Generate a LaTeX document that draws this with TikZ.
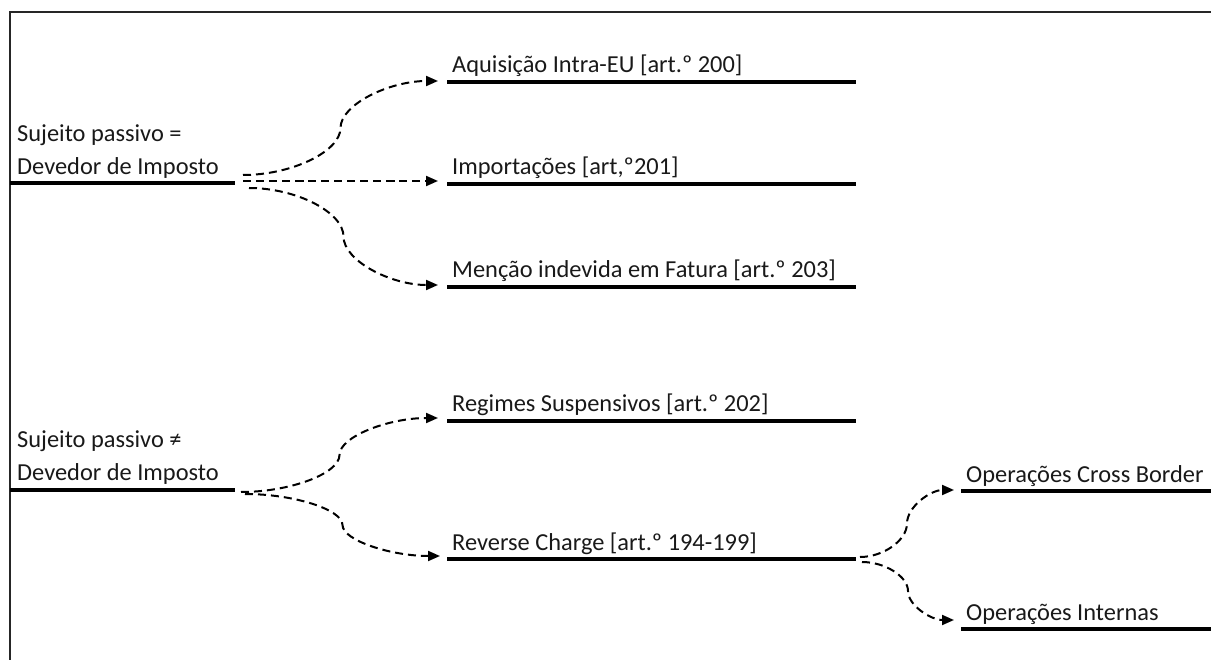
\documentclass[tikz,border=0pt]{standalone}
\usepackage{fontspec}
\setmainfont{Carlito}
\usetikzlibrary{arrows.meta,calc}

\tikzset{
  frameline/.style={line width=2pt, draw=black!85},
  uline/.style={line width=3.6pt, draw=black},
  lbl/.style={inner sep=0pt, anchor=base west, font=\fontsize{24.4}{28}\selectfont, text=black!90},
  conn/.style={line width=2pt, dash pattern=on 8pt off 5pt, -{Triangle[length=12pt,width=10pt]}},
}

% S-shaped connector: two cubic halves meeting with a vertical tangent at the midpoint
\newcommand\wordcurve[2]{%
  \draw[conn] let \p1=(#1), \p2=(#2) in
    (\p1) .. controls ({0.75*\x1+0.25*\x2},\y1) and ({0.5*\x1+0.5*\x2},{0.75*\y1+0.25*\y2})
    .. ({0.5*\x1+0.5*\x2},{0.5*\y1+0.5*\y2})
    .. controls ({0.5*\x1+0.5*\x2},{0.25*\y1+0.75*\y2}) and ({0.25*\x1+0.75*\x2},\y2) .. (\p2);}

\begin{document}
\begin{tikzpicture}[x=1pt,y=-1pt]
\useasboundingbox (0,0) rectangle (1211,660);

% open frame (top and left edges)
\draw[frameline] (10,664) -- (10,12) -- (1215,12);

% underline end points
\coordinate (s1w) at (10,183);  \coordinate (s1e) at (235,183);
\coordinate (s2w) at (10,490);  \coordinate (s2e) at (235,490);
\coordinate (aqw) at (447,82);  \coordinate (aqe) at (856,82);
\coordinate (imw) at (447,184); \coordinate (ime) at (856,184);
\coordinate (mew) at (447,287); \coordinate (mee) at (856,287);
\coordinate (rgw) at (447,421); \coordinate (rge) at (856,421);
\coordinate (rcw) at (447,559); \coordinate (rce) at (856,559);
\coordinate (cbw) at (961,491); \coordinate (cbe) at (1215,491);
\coordinate (inw) at (961,629); \coordinate (ine) at (1215,629);

\foreach \a/\b in {s1w/s1e,s2w/s2e,aqw/aqe,imw/ime,mew/mee,rgw/rge,rcw/rce,cbw/cbe,inw/ine}
  \draw[uline] (\a) -- (\b);

% labels
\node[lbl] (s1a) at (17,142) {Sujeito passivo =};
\node[lbl] (s1b) at (17,175) {Devedor de Imposto};
\node[lbl] (s2a) at (17,447) {Sujeito passivo ≠};
\node[lbl] (s2b) at (17,480) {Devedor de Imposto};
\node[lbl] (aq) at (452,73)  {Aquisição Intra-EU [art.º 200]};
\node[lbl] (im) at (452,175) {Importações [art,º201]};
\node[lbl] (me) at (452,278) {Menção indevida em Fatura [art.º 203]};
\node[lbl] (rg) at (452,412) {Regimes Suspensivos [art.º 202]};
\node[lbl] (rc) at (452,550) {Reverse Charge [art.º 194-199]};
\node[lbl] (cb) at (966,482) {Operações Cross Border};
\node[lbl] (in) at (966,620) {Operações Internas};

% connectors
\wordcurve{$(s1e)+(8,-8)$}{$(aqw)+(-9,-1)$}
\wordcurve{$(s1e)+(8,-2)$}{$(imw)+(-9,-3)$}
\wordcurve{$(s1e)+(14,5)$}{$(mew)+(-9,-2)$}
\wordcurve{$(s2e)+(6,2)$}{$(rgw)+(-9,-3)$}
\wordcurve{$(s2e)+(10,4)$}{$(rcw)+(-7,-3)$}
\wordcurve{$(rce)+(4,-2)$}{$(cbw)+(-7,-1)$}
\wordcurve{$(rce)+(6,3)$}{$(inw)+(-7,-9)$}
\end{tikzpicture}
\end{document}
